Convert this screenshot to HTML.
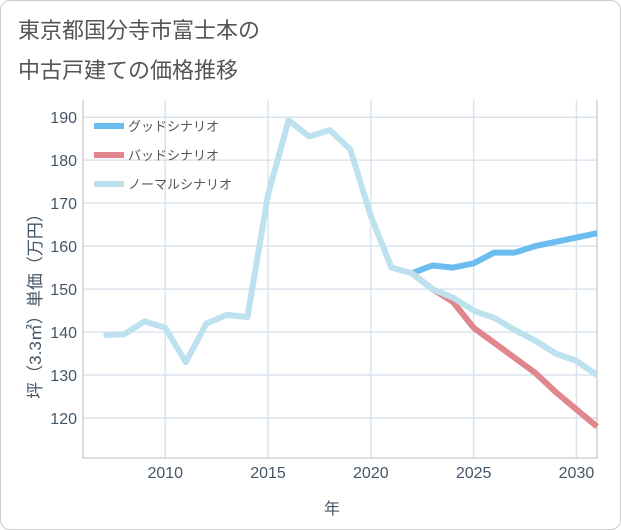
<!DOCTYPE html>
<html><head><meta charset="utf-8"><style>
body{margin:0;background:#fff;font-family:"Liberation Sans","Noto Sans CJK JP",sans-serif;}
#card{position:absolute;left:0;top:0;width:619px;height:528px;border:1px solid #ccc;border-radius:10px;background:#fff;}
</style></head><body>
<div id="card">
<svg id="chart" width="621" height="530" style="position:absolute;left:-1px;top:-1px">
<text x="18" y="38" font-size="22" fill="#555">東京都国分寺市富士本の</text>
<text x="18" y="78" font-size="22" fill="#555">中古戸建ての価格推移</text>
<g id="grid"></g><g id="lines"></g><g id="legend"></g>
<text x="332" y="514" font-size="16" fill="#456" text-anchor="middle">年</text>
<text transform="translate(41,302) rotate(-90)" font-size="17" fill="#456" text-anchor="middle">坪（3.3㎡）単価（万円）</text>
</svg></div>
<script>
const years=[2007,2008,2009,2010,2011,2012,2013,2014,2015,2016,2017,2018,2019,2020,2021,2022,2023,2024,2025,2026,2027,2028,2029,2030,2031];
const normal=[139.3,139.5,142.5,141,133,142,144,143.5,172,189.3,185.5,187,182.5,167,155,153.7,150,148,145,143.3,140.5,138,135,133.3,130];
const goodYears=[2022,2023,2024,2025,2026,2027,2028,2029,2030,2031];
const good=[153.7,155.5,155,156,158.5,158.5,160,161,162,163];
const bad=[153.7,150,147,141,137.5,134,130.5,126,122,118];
const xTicks=[2010,2015,2020,2025,2030];
const yTicks=[120,130,140,150,160,170,180,190];
const L=83,R=597,T=100,B=458;
const x=v=>L+(v-2006)/(2031-2006)*(R-L);
const y=v=>T+(194-v)/(194-110.7)*(B-T);
const NS="http://www.w3.org/2000/svg";
function mk(p,tag,a){const e=document.createElementNS(NS,tag);for(const k in a)e.setAttribute(k,a[k]);p.appendChild(e);return e;}
const g=document.getElementById('grid');
for(const t of yTicks){
 const l=mk(g,'line',{x1:L,x2:R,y1:y(t),y2:y(t),stroke:'#dbe4ee','stroke-width':1.5});
 
 
 const tx=mk(g,'text',{x:L-6,y:y(t)+6,'font-size':16,fill:'#456','text-anchor':'end'});tx.textContent=t;
 
 
}
for(const t of xTicks){
 const l=mk(g,'line',{x1:x(t),x2:x(t),y1:T,y2:B,stroke:'#dbe4ee','stroke-width':1.5});
 
 
 const tx=mk(g,'text',{x:x(t),y:B+20,'font-size':16,fill:'#456','text-anchor':'middle'});tx.textContent=t;
 
 
}
const ax=mk(g,'path',{d:`M${L},${T}V${B}H${R}V${T}`,fill:'none',stroke:'#bbb','stroke-width':1});


const ln=document.getElementById('lines');
function series(xs,vs,c,name){
 const p=mk(ln,'polyline',{points:xs.map((yr,i)=>x(yr)+','+y(vs[i])).join(' '),fill:'none',stroke:c,'stroke-width':6,'stroke-linejoin':'round'});
 
 
}
series(goodYears,good,'#6bbdf0','good-scenario-line');
series(goodYears,bad,'#e0868c','bad-scenario-line');
series(years,normal,'#bde1ee','normal-scenario-line');
const lg=document.getElementById('legend');
[['グッドシナリオ','#6bbdf0','legend-good'],['バッドシナリオ','#e0868c','legend-bad'],['ノーマルシナリオ','#bde1ee','legend-normal']].forEach((d,i)=>{
 const yy=126+i*29;
 const r=mk(lg,'rect',{x:94,y:yy-3,width:30,height:6,fill:d[1]});
 
 
 const t=mk(lg,'text',{x:128,y:yy+5,'font-size':13,fill:'#555'});t.textContent=d[0];
 
 
});
</script>
</body></html>
